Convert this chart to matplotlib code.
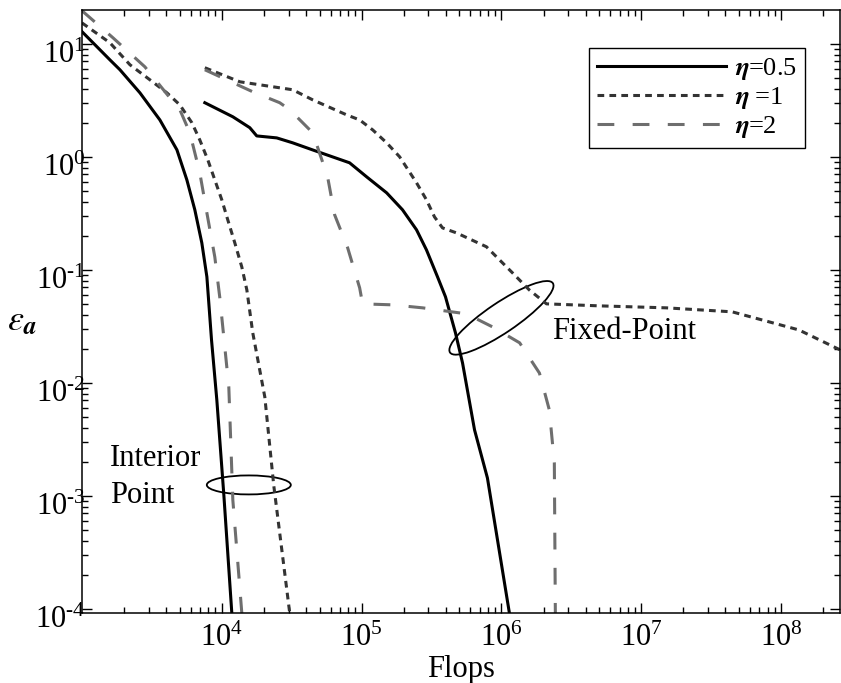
import math
import matplotlib
matplotlib.use("Agg")
import matplotlib.pyplot as plt
from matplotlib.patches import Ellipse
from matplotlib.transforms import ScaledTranslation
from matplotlib.ticker import FixedLocator, LogLocator, NullFormatter

plt.rcParams['font.family'] = ['Liberation Serif', 'DejaVu Serif']
plt.rcParams['mathtext.fontset'] = 'stix'

# interior point curves
ip_x_05 = [1000, 1585, 1868, 2597, 3606, 4773, 5623, 6410, 7195, 7820, 8440, 9210, 10340, 11790]
ip_y_05 = [12.8, 7.2, 5.89, 3.68, 2.12, 1.153, 0.625, 0.340, 0.173, 0.0867, 0.0240, 0.00708, 0.00102, 9.2e-5]

ip_x_1 = [1000, 1585, 2203, 3060, 4050, 5010, 6110, 6960, 7940, 8910, 10000, 11030, 12390,
          13900, 15100, 16650, 20300, 23500, 30600]
ip_y_1 = [15.3, 10.2, 6.52, 4.80, 3.68, 2.88, 2.0, 1.41, 0.94, 0.625, 0.416, 0.277, 0.173,
          0.106, 0.0665, 0.0277, 0.00751, 0.00125, 9.2e-5]

ip_x_2 = [1000, 1665, 2818, 4250, 5010, 5907, 6960, 7820, 8910, 9680, 11220, 11990, 13900]
ip_y_2 = [19.6, 11.3, 6.25, 3.33, 2.61, 1.63, 0.721, 0.319, 0.130, 0.0565, 0.00923, 0.00092, 9.2e-5]

# fixed point curves
fp_x_05 = [7560, 11990, 15850, 17780, 24700, 32100, 44700, 59000, 82000, 108600, 151000, 196000,
           247000, 291000, 349000, 398000, 469000, 527000, 642000, 794000, 1.14e6]
fp_y_05 = [3.01, 2.26, 1.81, 1.53, 1.47, 1.33, 1.15, 1.02, 0.885, 0.665, 0.480, 0.340,
           0.226, 0.150, 0.0867, 0.0577, 0.0277, 0.0150, 0.00384, 0.00144, 9.2e-5]

fp_x_1 = [7560, 13450, 32100, 44700, 78100, 96800, 120000, 151000, 187000, 247000, 291000, 332000,
          379000, 478000, 781000, 1.2e6, 1.58e6, 2.1e6, 5.01e6, 1.51e7, 4.47e7, 1.34e8, 2.64e8]
fp_y_1 = [6.14, 4.61, 3.92, 3.19, 2.35, 2.12, 1.73, 1.33, 1.0, 0.589, 0.416, 0.294,
          0.235, 0.212, 0.160, 0.094, 0.0665, 0.050, 0.048, 0.0461, 0.0425, 0.0294, 0.0196]

fp_x_2 = [7560, 16650, 25950, 30600, 44700, 57100, 64100, 79400, 96800, 101600,
          166000, 273000, 562000, 862000, 1.35e6, 1.87e6, 2.2e6, 2.39e6, 2.43e6]
fp_y_2 = [5.89, 3.76, 3.01, 2.61, 1.63, 0.665, 0.307, 0.157, 0.0693, 0.050,
          0.049, 0.0461, 0.0408, 0.0313, 0.0226, 0.0122, 0.00577, 0.00196, 9.2e-5]

labels = [r'$\boldsymbol{\eta}$=0.5', r'$\boldsymbol{\eta}$ =1', r'$\boldsymbol{\eta}$=2']
xticks = [1e4, 1e5, 1e6, 1e7, 1e8]
yticks = [1e-4, 1e-3, 1e-2, 1e-1, 1e0, 1e1]


def sci(v):
    e = str(round(math.log10(v))).replace('-', '\u2010')
    return r'$\mathdefault{10^{%s}}$' % e


fig = plt.figure(figsize=(8.41, 6.83), dpi=100)
ax = fig.add_axes([82/841, 1-613/683, 758/841, 603/683])
ax.set_xscale('log')
ax.set_yscale('log')

s05 = dict(color='black', lw=2.2, ls='-')
s1 = dict(color='#333333', lw=2.2, ls=(0, (2.2, 1.7)))
s2 = dict(color='#6e6e6e', lw=2.2, ls=(0, (5.5, 6.0)))

ax.plot(ip_x_05, ip_y_05, label=labels[0], **s05)
ax.plot(ip_x_1, ip_y_1, label=labels[1], **s1)
ax.plot(ip_x_2, ip_y_2, label=labels[2], **s2)
ax.plot(fp_x_05, fp_y_05, **s05)
ax.plot(fp_x_1, fp_y_1, **s1)
ax.plot(fp_x_2, fp_y_2, **s2)

ax.set_xlim(1000, 2.64e8)
ax.set_ylim(9.2e-5, 19.9)

ax.xaxis.set_major_locator(FixedLocator(xticks))
ax.yaxis.set_major_locator(FixedLocator(yticks))
ax.set_xticklabels([sci(v) for v in xticks])
ax.set_yticklabels([sci(v) for v in yticks])
ax.xaxis.set_minor_locator(LogLocator(base=10, subs=range(2, 10), numticks=20))
ax.yaxis.set_minor_locator(LogLocator(base=10, subs=range(2, 10), numticks=20))
ax.xaxis.set_minor_formatter(NullFormatter())
ax.yaxis.set_minor_formatter(NullFormatter())
ax.tick_params(which='both', direction='in', top=True, right=True, width=1)
ax.tick_params(which='major', length=7, labelsize=22)
ax.tick_params(which='minor', length=4)
ax.tick_params(axis='x', which='major', pad=8)
ax.tick_params(axis='y', which='major', pad=-2.5)
for lab in ax.get_yticklabels():
    lab.set_transform(lab.get_transform() + ScaledTranslation(0, -0.08, fig.dpi_scale_trans))
for sp in ax.spines.values():
    sp.set_linewidth(1.1)

ax.set_xlabel('Flops', fontsize=22, labelpad=1)
ax.set_ylabel(r'$\varepsilon_{\boldsymbol{a}}$', fontsize=26, rotation=0, ha='center', va='center')
ax.yaxis.set_label_coords(-0.079, 0.483)

ax.text(0.037, 0.2255, 'Interior\nPoint', transform=ax.transAxes, fontsize=22,
        va='center', ha='left', linespacing=1.33)
ax.text(2.3e6, 0.0283, 'Fixed-Point', fontsize=22, va='center', ha='left')

# ellipses drawn in inches around a data anchor
e1 = Ellipse((0, 0), 0.84, 0.19, angle=0, fill=False, lw=1.3, color='black',
             transform=fig.dpi_scale_trans + ScaledTranslation(15600, 1.25e-3, ax.transData))
e2 = Ellipse((0, 0), 1.24, 0.30, angle=34, fill=False, lw=1.3, color='black',
             transform=fig.dpi_scale_trans + ScaledTranslation(1.0e6, 0.0376, ax.transData))
ax.add_patch(e1)
ax.add_patch(e2)

leg = ax.legend(loc='upper right', bbox_to_anchor=(0.954, 0.937), fontsize=19,
                frameon=True, fancybox=False, framealpha=1, edgecolor='black',
                handlelength=4.9, handletextpad=0.35, labelspacing=0.12,
                borderpad=0.3, borderaxespad=0)
leg.get_frame().set_linewidth(1.0)

fig.savefig('out.png', dpi=100)
